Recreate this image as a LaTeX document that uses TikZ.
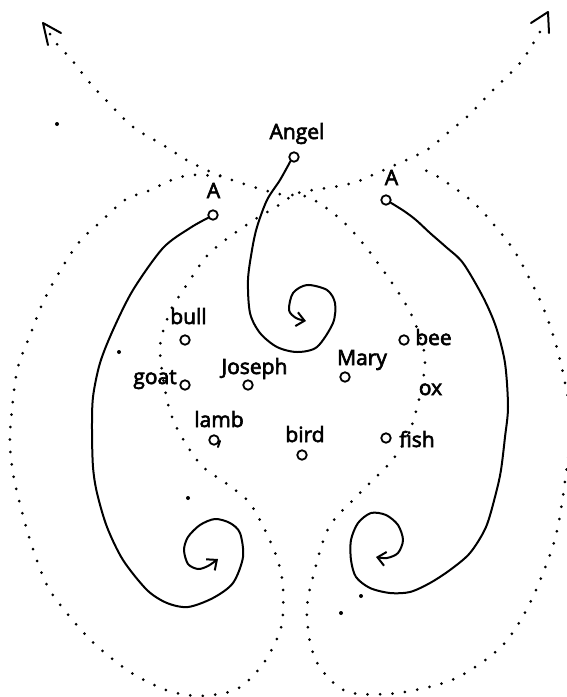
\documentclass[tikz,border=0pt]{standalone}
\usepackage{fontspec}
\newfontfamily\etiquette{Open Sans}[FakeBold=3]
\usetikzlibrary{arrows.meta,calc}

\begin{document}
\begin{tikzpicture}[x=1pt,y=-1pt,
  trait/.style={line width=2pt,line cap=round,line join=round},
  pointille/.style={line width=3pt,line cap=round,dash pattern=on 0pt off 12.5pt},
  rond/.style={circle,draw,line width=1.8pt,minimum size=9.5pt,inner sep=0pt},
  nom/.style={anchor=base,inner sep=0pt,font=\etiquette\fontsize{21}{24}\selectfont},
  fleche/.style={-{Straight Barb[length=8pt,width=14pt,line width=2pt]}}]

\useasboundingbox (0,0) rectangle (567,697);
\clip (0,0) rectangle (567,697);

% Noms
\node[nom] (angel) at (297,139) {Angel};
\node[nom] (ag) at (213.5,198) {A};
\node[nom] (ad) at (391.5,185) {A};
\node[nom] (bull) at (188.5,324) {bull};
\node[nom] (goat) at (155,384) {goat};
\node[nom] (joseph) at (254.5,374) {Joseph};
\node[nom] (lamb) at (219,427) {lamb};
\node[nom] (bird) at (305,442) {bird};
\node[nom] (mary) at (362,365) {Mary};
\node[nom] (bee) at (433.5,345) {bee};
\node[nom] (ox) at (430.5,395) {ox};
\node[nom] (fish) at (417,447) {fish};

% Petits ronds
\node[rond] (oangel) at (294,157) {};
\node[rond] (oag) at (213,215) {};
\node[rond] (oad) at (386,200) {};
\node[rond] (obull) at (185,340) {};
\node[rond] (ogoat) at (185,385) {};
\node[rond] (ojoseph) at (248,385) {};
\node[rond] (olamb) at (214,440) {};
\node[rond] (obird) at (302,455) {};
\node[rond] (omary) at (345,377) {};
\node[rond] (obee) at (404,340) {};
\node[rond] (ofish) at (386,438) {};

\draw[trait] (220,441) -- (218,447);

% Spirales
\draw[trait,fleche]
plot[smooth] coordinates {(oag.210) (190,228) (163,248) (133,290) (113,330)
(100,363) (93,397) (92,430) (93,467) (97,493) (107,527) (123,560) (147,590)
(167,603) (188,607) (213,598) (233,583) (243,557) (240,533) (230,523)
(215,519) (200,525) (188,537) (184,550) (188,564) (198,569) (208,566) (218,559)};

\draw[trait,fleche]
plot[smooth] coordinates {(oad.-30) (404,211) (416,220) (430,233) (446,247)
(463,263) (483,297) (496,327) (505,363) (508,407) (505,437) (501,470)
(496,493) (486,527) (470,553) (450,570) (430,583) (410,592) (390,593)
(370,588) (356,577) (351,560) (351,540) (358,523) (371,513) (386,515)
(398,525) (403,540) (398,553) (387,558) (376,557)};

\draw[trait,fleche]
plot[smooth] coordinates {(oangel.230) (280,180) (267,200) (257,227)
(252,250) (248,280) (250,313) (260,333) (277,347) (297,352) (317,347)
(333,323) (335,303) (327,290) (307,285) (293,293) (289,310) (296,318) (306,321)};

% Pointilles
\coordinate (pg) at (50,34);
\coordinate (bg) at (43,23);
\coordinate (pd) at (541,30);
\coordinate (bd) at (548,12);

\draw[pointille]
plot[smooth] coordinates {(pg) (56,43) (71,59) (90,83) (106,100) (133,127)
(163,145) (190,162) (216,174) (244,184) (279,194) (308,197) (338,217)
(361,241) (390,280) (412,316) (425,361) (413,422) (394,458) (360,493)
(329,527) (314,573) (307,607) (310,642) (321,669) (348,692) (398,693)
(454,679) (501,647) (530,603) (555,539) (566,474) (571,420) (559,356)
(543,307) (518,257) (500,232) (474,203) (440,178) (420,168)};

\draw[pointille]
plot[smooth] coordinates {(220,176) (193,175) (174,179) (148,191) (125,200)
(97,225) (80,241) (63,266) (44,300) (31,333) (17,371) (10,435) (13,473)
(22,512) (34,552) (49,589) (75,623) (98,647) (130,672) (166,690) (200,696)
(237,689) (263,664) (281,628) (283,588) (278,561) (266,532) (249,502)
(227,484) (203,467) (188,447) (174,422) (166,395) (160,347) (170,312)
(182,292) (202,262) (213,250) (232,235) (257,218) (276,207) (298,193)
(334,187) (356,182) (377,173) (425,151) (445,135) (469,115) (493,90)
(521,62) (pd)};

% Pointes
\draw[trait] ($(bg)+(18,10)$) -- (bg) -- ($(bg)+(5,22)$);
\draw[trait] ($(bd)+(-17,11)$) -- (bd) -- ($(bd)+(1,21)$);

% Points isoles
\foreach \p in {(119,352),(188,498),(361,596),(341,613),(57,124)}
{
    \fill \p circle (2);
}

\end{tikzpicture}
\end{document}
